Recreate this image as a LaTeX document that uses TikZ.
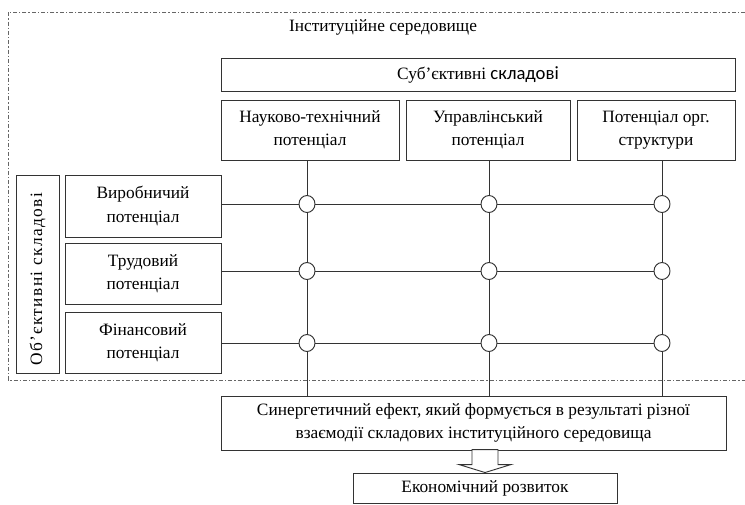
\documentclass[tikz,border=0pt]{standalone}
\usepackage{fontspec}
\setmainfont{Liberation Serif}
\newfontfamily\spacedserif[LetterSpace=8]{Liberation Serif}
\newfontfamily\calfont{Carlito}
\usetikzlibrary{calc,shapes.geometric}
\definecolor{ln}{HTML}{333333}
\definecolor{dsh}{HTML}{666666}
\tikzset{
  bx/.style 2 args={draw=ln, line width=0.7pt, fill=white, inner sep=0pt,
    minimum width=#1*0.75pt, minimum height=#2*0.75pt, align=center,
    font=\fontsize{13}{17.5}\selectfont},
  jn/.style={draw=ln, line width=0.7pt, fill=white, ellipse, inner sep=0pt,
    minimum width=16*0.75pt, minimum height=17*0.75pt},
  conn/.style={draw=ln, line width=0.7pt},
  envline/.style={draw=dsh, line width=0.7pt, dash pattern=on 3pt off 1.5pt on 1pt off 1.5pt},
  lbl/.style={inner sep=0pt, font=\fontsize{13}{17.5}\selectfont}
}
\begin{document}
\begin{tikzpicture}[x=0.75pt,y=-0.75pt]
\useasboundingbox (0,0) rectangle (745,504);
% institutional environment (open to the right)
\coordinate (envtr) at (745,12);
\coordinate (envtl) at (8,12);
\coordinate (envbl) at (8,380);
\coordinate (envbr) at (745,380);
\draw[envline] (envtr) -- (envtl) -- (envbl) -- (envbr);
\node[lbl] (title) at (383,27) {Інституційне середовище};

% subjective components
\node[bx={514}{33}] (sub) at (478,74.5) {Суб’єктивні {\calfont\fontsize{14}{17}\selectfont складові}};
\node[bx={178}{60}] (n1) at (310,130) {Науково-технічний\\потенціал};
\node[bx={164}{60}] (n2) at (488,130) {Управлінський\\потенціал};
\node[bx={158}{60}] (n3) at (656,130) {Потенціал орг.\\структури};

% objective components
\node[bx={43}{198}] (obj) at (37.5,274) {};
\node[lbl, rotate=90, font=\spacedserif\fontsize{13}{17.5}\selectfont] (objt) at ([yshift=-4pt]obj.center) {Об’єктивні складові};
\node[bx={156}{62}] (v1) at (143,206) {Виробничий\\потенціал};
\node[bx={156}{61}] (v2) at (143,273.5) {Трудовий\\потенціал};
\node[bx={156}{61}] (v3) at (143,342.5) {Фінансовий\\потенціал};

% synergy and result
\node[bx={505}{54}] (syn) at (473.5,423) {Синергетичний ефект, який формується в результаті різної\\взаємодії складових інституційного середовища};
\node[bx={264}{30}] (eco) at (485,488) {Економічний розвиток};

% junctions
\foreach \r/\y in {1/204,2/271,3/343}{
  \node[jn] (c\r1) at (307,\y) {};
  \node[jn] (c\r2) at (489,\y) {};
  \node[jn] (c\r3) at (662,\y) {};
}

% vertical connectors
\draw[conn] (n1.south -| c11) -- (c11) -- (c21) -- (c31) -- (syn.north -| c31);
\draw[conn] (n2.south -| c12) -- (c12) -- (c22) -- (c32) -- (syn.north -| c32);
\draw[conn] (n3.south -| c13) -- (c13) -- (c23) -- (c33) -- (syn.north -| c33);
% horizontal connectors
\draw[conn] (v1.east |- c11) -- (c11) -- (c12) -- (c13);
\draw[conn] (v2.east |- c21) -- (c21) -- (c22) -- (c23);
\draw[conn] (v3.east |- c31) -- (c31) -- (c32) -- (c33);

% hollow arrow
\draw[conn, fill=white] (eco.north) -- ++(-26,-8) -- ++(13,0) -- ++(0,-15)
  -- ++(26,0) -- ++(0,15) -- ++(13,0) -- cycle;
\end{tikzpicture}
\end{document}
